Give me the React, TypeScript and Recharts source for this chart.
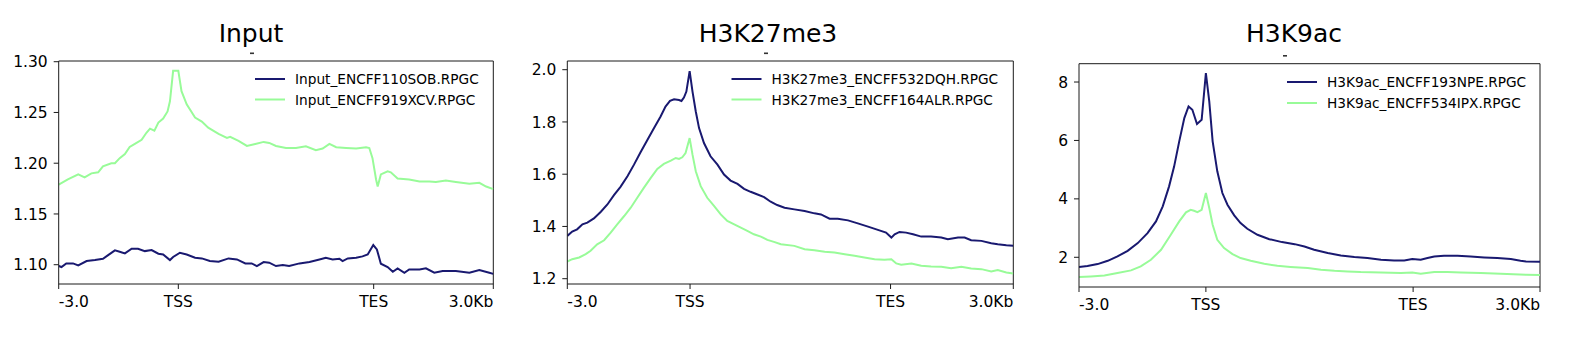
import React from 'react';
import { LineChart, Line, XAxis, YAxis, ReferenceLine } from 'recharts';

const FONT = '"DejaVu Sans", Verdana, sans-serif';
const BLUE = '#191970';
const GREEN = '#98fb98';
const AXIS = '#1a1a1a';

// x positions are profile bins: 0 = -3.0 kb, 30 = TSS, 79 = TES, 109 = +3.0 kb
const X_TICKS = [0, 30, 79, 109];
const X_LABELS = ['-3.0', 'TSS', 'TES', '3.0Kb'];

const TITLES = ['Input', 'H3K27me3', 'H3K9ac'];
const SERIES_NAMES = [
  ['Input_ENCFF110SOB.RPGC', 'Input_ENCFF919XCV.RPGC'],
  ['H3K27me3_ENCFF532DQH.RPGC', 'H3K27me3_ENCFF164ALR.RPGC'],
  ['H3K9ac_ENCFF193NPE.RPGC', 'H3K9ac_ENCFF534IPX.RPGC'],
];

const Y_TICKS_INPUT = [1.1, 1.15, 1.2, 1.25, 1.3];
const Y_TICKS_K27 = [1.2, 1.4, 1.6, 1.8, 2.0];
const Y_TICKS_K9 = [2, 4, 6, 8];

const INPUT_SOB: [number, number][] = [
  [0, 1.0987], [0.7, 1.0977], [1.9, 1.1013], [3.6, 1.1013], [4.9, 1.0993], [7.0, 1.1036],
  [9.1, 1.1046], [11.1, 1.1059], [12.4, 1.1095], [14.1, 1.1141], [15.3, 1.1128], [16.6, 1.1111],
  [18.3, 1.1157], [19.9, 1.1157], [21.6, 1.1134], [23.3, 1.1144], [25.0, 1.1108], [26.2, 1.1101],
  [27.9, 1.1046], [28.7, 1.1076], [30.4, 1.1118], [32.1, 1.1101], [34.2, 1.1069], [35.9, 1.1062],
  [37.9, 1.1036], [40.1, 1.103], [42.6, 1.1062], [44.7, 1.1052], [46.8, 1.1013], [48.4, 1.1013],
  [49.7, 1.0987], [51.4, 1.1026], [52.8, 1.102], [54.5, 1.0987], [56.2, 1.0997], [57.8, 1.0987],
  [60.4, 1.1013], [62.9, 1.1026], [65.4, 1.1052], [67.0, 1.1069], [68.7, 1.1052], [70.4, 1.1059],
  [71.2, 1.1036], [72.5, 1.1062], [74.6, 1.1069], [76.2, 1.1082], [77.5, 1.1101], [78.9, 1.1194],
  [79.8, 1.1151], [80.8, 1.101], [82.5, 1.0977], [83.8, 1.0931], [85.0, 1.0964], [86.7, 1.0921],
  [87.9, 1.0954], [90.5, 1.0954], [92.1, 1.0964], [94.2, 1.0921], [96.3, 1.0938], [99.6, 1.0938],
  [103.0, 1.0921], [105.5, 1.0948], [108.0, 1.0921], [109, 1.091],
];

const INPUT_XCV: [number, number][] = [
  [0, 1.179], [2.3, 1.184], [4.9, 1.189], [6.5, 1.186], [8.2, 1.19], [9.9, 1.191], [11.1, 1.197],
  [13.2, 1.2], [14.1, 1.2], [15.3, 1.205], [16.6, 1.209], [17.8, 1.216], [19.1, 1.219], [20.8, 1.223],
  [22.0, 1.23], [22.9, 1.234], [24.0, 1.232], [25.0, 1.24], [26.2, 1.244], [27.3, 1.251], [27.9, 1.261],
  [28.7, 1.291], [30.0, 1.291], [30.8, 1.271], [32.1, 1.258], [34.2, 1.245], [35.9, 1.241], [37.5, 1.235],
  [40.1, 1.229], [42.2, 1.225], [43.0, 1.226], [45.1, 1.222], [47.2, 1.217], [49.3, 1.219], [51.4, 1.221],
  [52.8, 1.22], [54.5, 1.217], [57.0, 1.215], [59.5, 1.215], [62.0, 1.2167], [64.5, 1.2128], [66.2, 1.2144],
  [67.9, 1.219], [69.6, 1.2158], [72.1, 1.215], [74.6, 1.2144], [77.1, 1.2158], [77.9, 1.215], [78.7, 1.205],
  [79.6, 1.184], [80.0, 1.177], [80.8, 1.189], [82.5, 1.192], [83.3, 1.191], [85.0, 1.185], [87.9, 1.184],
  [90.5, 1.182], [93.0, 1.182], [94.6, 1.1815], [97.1, 1.183], [99.6, 1.1815], [103.0, 1.1797],
  [105.5, 1.1807], [107.2, 1.177], [109, 1.1745],
];

const K27_DQH: [number, number][] = [
  [0, 1.3638], [1.2, 1.3802], [2.4, 1.389], [3.7, 1.408], [4.9, 1.4145], [6.5, 1.431], [8.2, 1.4564],
  [9.8, 1.4842], [11.4, 1.52], [13.0, 1.5516], [14.7, 1.5924], [16.3, 1.6366], [17.9, 1.6838], [19.6, 1.7318],
  [21.2, 1.7764], [22.8, 1.821], [24.0, 1.859], [25.1, 1.8804], [26.1, 1.8869], [27.3, 1.8842], [27.9, 1.8804],
  [28.5, 1.8933], [29.1, 1.9162], [29.9, 1.9947], [30.6, 1.9162], [31.4, 1.84], [32.2, 1.7764], [33.4, 1.7192],
  [35.0, 1.6686], [36.7, 1.6366], [38.3, 1.5985], [39.9, 1.5756], [41.6, 1.563], [43.2, 1.544], [44.8, 1.5326],
  [46.5, 1.5223], [48.1, 1.5124], [49.7, 1.4945], [51.3, 1.4819], [53.1, 1.4716], [55.5, 1.4653], [58.0, 1.459],
  [60.4, 1.4501], [62.0, 1.4461], [64.1, 1.4297], [66.1, 1.4297], [68.6, 1.4232], [71.0, 1.4118], [73.5, 1.3992],
  [75.9, 1.3867], [77.9, 1.3764], [79.2, 1.3573], [80.0, 1.37], [81.2, 1.379], [82.8, 1.3764], [84.5, 1.37],
  [86.5, 1.3611], [88.9, 1.3611], [91.4, 1.3573], [93.0, 1.3509], [95.5, 1.3573], [97.1, 1.3573], [98.7, 1.3471],
  [101.2, 1.3448], [103.6, 1.3356], [105.2, 1.3318], [107.3, 1.328], [109, 1.326],
];

const K27_ALR: [number, number][] = [
  [0, 1.2659], [1.2, 1.2747], [2.9, 1.2811], [4.5, 1.2938], [5.7, 1.3067], [7.3, 1.3318], [9.0, 1.3471],
  [10.6, 1.3764], [12.2, 1.408], [13.9, 1.44], [15.5, 1.4716], [17.1, 1.5097], [18.7, 1.5478], [20.4, 1.5859],
  [22.0, 1.6202], [23.6, 1.6392], [25.3, 1.6518], [26.5, 1.6621], [27.3, 1.6583], [28.1, 1.6648], [28.9, 1.6811],
  [29.9, 1.7383], [30.6, 1.6747], [31.4, 1.6114], [32.6, 1.5543], [34.2, 1.5097], [35.9, 1.4781], [37.5, 1.4461],
  [39.1, 1.421], [40.8, 1.408], [42.4, 1.3954], [44.0, 1.3829], [45.6, 1.37], [47.3, 1.3611], [48.9, 1.3486],
  [50.5, 1.341], [52.2, 1.3318], [55.5, 1.3257], [58.0, 1.313], [60.4, 1.309], [62.9, 1.3029], [65.3, 1.3002],
  [67.8, 1.2938], [70.2, 1.2876], [72.6, 1.2811], [75.1, 1.2747], [77.5, 1.2724], [79.2, 1.2747], [80.4, 1.2583],
  [81.6, 1.2533], [84.1, 1.2583], [86.5, 1.2495], [88.9, 1.2469], [91.4, 1.2457], [93.8, 1.2404], [96.3, 1.2457],
  [98.7, 1.2392], [101.2, 1.2366], [103.6, 1.2278], [105.2, 1.2328], [107.3, 1.224], [109, 1.22],
];

const K9_NPE: [number, number][] = [
  [0, 1.664], [2.0, 1.699], [4.4, 1.767], [6.8, 1.88], [9.1, 2.03], [11.5, 2.222], [13.9, 2.486],
  [16.2, 2.829], [18.2, 3.229], [19.8, 3.743], [21.3, 4.428], [22.5, 5.113], [23.7, 5.969], [24.9, 6.767],
  [25.9, 7.166], [26.8, 7.052], [27.9, 6.562], [29.0, 6.709], [30.0, 8.308], [30.8, 7.339], [31.6, 5.969],
  [32.7, 4.942], [33.9, 4.199], [35.1, 3.798], [36.7, 3.435], [38.2, 3.171], [39.8, 2.976], [42.2, 2.771],
  [45.0, 2.62], [48.0, 2.52], [51.0, 2.45], [53.3, 2.37], [55.6, 2.26], [58.8, 2.144], [61.9, 2.065],
  [65.1, 2.007], [68.2, 1.973], [71.4, 1.915], [74.5, 1.894], [76.9, 1.894], [78.8, 1.938], [80.8, 1.915],
  [82.4, 1.973], [84.0, 2.03], [86.3, 2.053], [89.5, 2.053], [92.6, 2.03], [95.8, 1.996], [98.9, 1.973],
  [102.1, 1.938], [104.4, 1.88], [105.7, 1.859], [109, 1.85],
];

const K9_IPX: [number, number][] = [
  [0, 1.322], [2.8, 1.345], [6.0, 1.379], [9.1, 1.459], [12.3, 1.551], [14.6, 1.688], [17.0, 1.915],
  [19.4, 2.257], [21.7, 2.771], [23.7, 3.229], [25.3, 3.537], [26.4, 3.627], [27.2, 3.593], [28.0, 3.548],
  [29.0, 3.627], [30.0, 4.199], [30.8, 3.685], [31.6, 3.113], [32.7, 2.599], [34.3, 2.315], [36.3, 2.11],
  [38.2, 1.973], [40.6, 1.88], [43.8, 1.777], [46.9, 1.709], [50.0, 1.67], [54.1, 1.63], [57.2, 1.572],
  [60.4, 1.538], [63.5, 1.517], [66.6, 1.493], [71.4, 1.482], [76.1, 1.459], [78.8, 1.482], [80.8, 1.435],
  [84.0, 1.493], [87.1, 1.493], [90.3, 1.482], [95.0, 1.459], [99.7, 1.435], [105.7, 1.401], [109, 1.39],
];

type Panel = {
  title: string;
  names: string[];
  series: [number, number][][];
  yTicks: number[];
  yDomain: [number, number];
  yDigits: number;
  layout: {
    left: number; width: number; yAxisWidth: number;
    margin: { top: number; right: number; bottom: number; left: number };
    titleX: number; dashX: number; dashY: number;
    legendLineX: number; legendTextX: number; legendRowY: number[];
  };
};

const PANELS: Panel[] = [
  {
    title: TITLES[0], names: SERIES_NAMES[0], series: [INPUT_SOB, INPUT_XCV],
    yTicks: Y_TICKS_INPUT, yDomain: [1.081, 1.3007], yDigits: 2,
    layout: {
      left: 0, width: 520, yAxisWidth: 58.7,
      margin: { top: 61, right: 26.7, bottom: 46, left: 0 },
      titleX: 251, dashX: 250, dashY: 52.5,
      legendLineX: 255, legendTextX: 295, legendRowY: [79, 99.5],
    },
  },
  {
    title: TITLES[1], names: SERIES_NAMES[1], series: [K27_DQH, K27_ALR],
    yTicks: Y_TICKS_K27, yDomain: [1.1797, 2.0333], yDigits: 1,
    layout: {
      left: 510, width: 520, yAxisWidth: 57.3,
      margin: { top: 61, right: 16.7, bottom: 46, left: 0 },
      titleX: 768, dashX: 764, dashY: 52.5,
      legendLineX: 731.5, legendTextX: 771.5, legendRowY: [79, 99.5],
    },
  },
  {
    title: TITLES[2], names: SERIES_NAMES[2], series: [K9_NPE, K9_IPX],
    yTicks: Y_TICKS_K9, yDomain: [0.983, 8.627], yDigits: 0,
    layout: {
      left: 1030, width: 540, yAxisWidth: 49,
      margin: { top: 63.7, right: 30, bottom: 43, left: 0 },
      titleX: 1294, dashX: 1283, dashY: 55,
      legendLineX: 1287, legendTextX: 1327, legendRowY: [82, 103],
    },
  },
];

const COLORS = [BLUE, GREEN];

const XTick = (props: any) => {
  const { x, y, payload } = props;
  const i = X_TICKS.indexOf(payload.value);
  const anchor = i === 0 ? 'start' : i === X_TICKS.length - 1 ? 'end' : 'middle';
  return (
    <text x={x} y={y} dy="0.71em" textAnchor={anchor} fontSize={15.5} fontFamily={FONT} fill="#000">
      {X_LABELS[i]}
    </text>
  );
};

const makeYTick = (digits: number) => (props: any) => {
  const { x, y, payload } = props;
  return (
    <text x={x} y={y} dy="0.36em" textAnchor="end" fontSize={15.5} fontFamily={FONT} fill="#000">
      {Number(payload.value).toFixed(digits)}
    </text>
  );
};

const PanelChart = ({ p }: { p: Panel }) => {
  const L = p.layout;
  return (
    <div style={{ position: 'absolute', left: L.left, top: 0, width: L.width, height: 360 }}>
      <LineChart width={L.width} height={360} margin={L.margin}>
        <XAxis
          dataKey="x" type="number" domain={[0, 109]} ticks={X_TICKS} allowDataOverflow
          height={30} tickSize={5} tickMargin={7} tick={<XTick />} interval={0}
          axisLine={{ stroke: AXIS, strokeWidth: 1 }} tickLine={{ stroke: AXIS, strokeWidth: 1 }}
        />
        <YAxis
          type="number" domain={p.yDomain} ticks={p.yTicks} allowDataOverflow width={L.yAxisWidth}
          tickSize={5} tickMargin={6} tick={makeYTick(p.yDigits)} interval={0}
          axisLine={{ stroke: AXIS, strokeWidth: 1 }} tickLine={{ stroke: AXIS, strokeWidth: 1 }}
        />
        <ReferenceLine y={p.yDomain[1]} stroke={AXIS} strokeWidth={1} ifOverflow="extendDomain" />
        <ReferenceLine x={109} stroke={AXIS} strokeWidth={1} ifOverflow="extendDomain" />
        {p.series.map((s, i) => (
          <Line
            key={p.names[i]}
            name={p.names[i]}
            data={s.map(([x, y]) => ({ x, y }))}
            dataKey="y"
            type="linear"
            stroke={COLORS[i]}
            strokeWidth={2}
            dot={false}
            activeDot={false}
            isAnimationActive={false}
          />
        ))}
      </LineChart>
    </div>
  );
};

export default function App() {
  return (
    <div style={{ position: 'absolute', left: 0, top: 0, width: 1570, height: 360, background: '#fff' }}>
      {PANELS.map((p) => (
        <PanelChart key={p.title} p={p} />
      ))}
      <svg width={1570} height={360} style={{ position: 'absolute', left: 0, top: 0, pointerEvents: 'none' }}>
        {PANELS.map((p) => (
          <g key={p.title}>
            <text x={p.layout.titleX} y={42} textAnchor="middle" fontSize={25} fontFamily={FONT} fill="#000">
              {p.title}
            </text>
            <rect x={p.layout.dashX} y={p.layout.dashY} width={4} height={1.6} fill="#333" />
            {p.names.map((n, i) => (
              <g key={n}>
                <line
                  x1={p.layout.legendLineX} x2={p.layout.legendLineX + 30}
                  y1={p.layout.legendRowY[i]} y2={p.layout.legendRowY[i]}
                  stroke={COLORS[i]} strokeWidth={2}
                />
                <text
                  x={p.layout.legendTextX} y={p.layout.legendRowY[i] + 5}
                  fontSize={13.7} fontFamily={FONT} fill="#000"
                >
                  {n}
                </text>
              </g>
            ))}
          </g>
        ))}
      </svg>
    </div>
  );
}
